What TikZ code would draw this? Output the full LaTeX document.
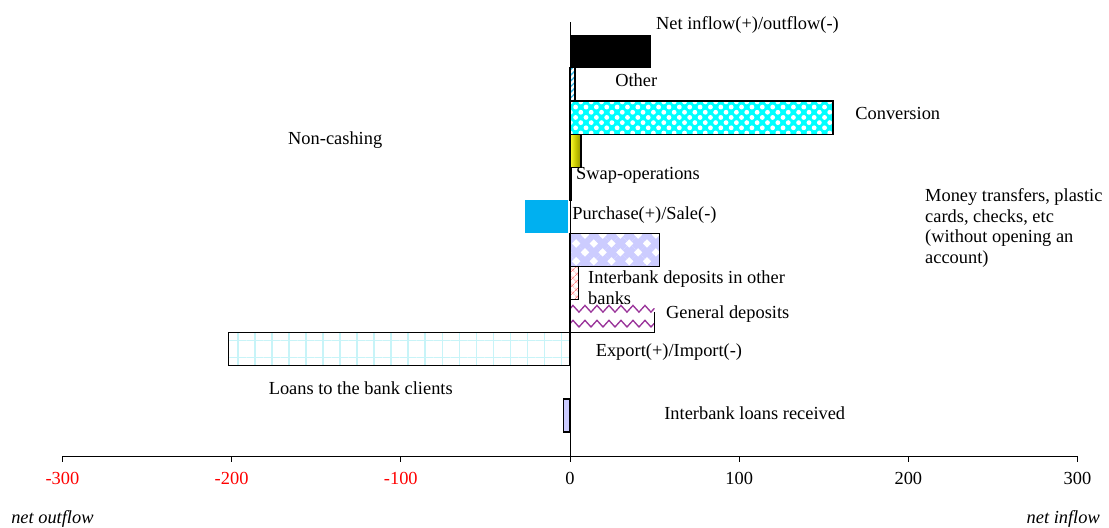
\documentclass[tikz,border=0pt]{standalone}
\usepackage{fontspec}
\setmainfont{Liberation Serif}
\usetikzlibrary{positioning, patterns.meta, decorations.pathmorphing}

\definecolor{barblue}{HTML}{00B0F0}
\definecolor{lavender}{HTML}{CCCCFF}
\definecolor{dotcyan}{HTML}{00FFFF}
\definecolor{zigpurple}{HTML}{993399}
\definecolor{gridcyan}{HTML}{C8F4F8}
\definecolor{stripeblue}{HTML}{33B5E5}

\begin{document}
\begin{tikzpicture}[
    x=1.2688pt, y=24.83pt,
    every node/.style={font=\fontsize{13.8}{15.5}\selectfont, inner sep=0pt},
    lbl/.style={anchor=west, align=left},
    bar/.style={draw=black, line width=0.9pt},
    axisline/.style={line width=0.6pt},
    ticklbl/.style={anchor=center},
    negtick/.style={ticklbl, text=red},
    side/.style={font=\fontsize{13.8}{15.5}\selectfont\itshape},
]
\useasboundingbox (-336.9,-2.145) rectangle (318.6,13.776);

% Bars, bottom to top
\draw[bar, fill=lavender] (0,0.725) rectangle (-4,1.725);
\draw[bar, pattern={Hatch[angle=0, distance=12.75pt, line width=0.8pt]}, pattern color=gridcyan] (0,2.725) rectangle (-202,3.725);
\begin{scope}
    \clip (0,3.725) rectangle (50,4.725);
    \draw[zigpurple, line width=1pt, decorate, decoration={zigzag, segment length=9pt, amplitude=2.5pt}] (0,4.0) -- (52,4.0);
    \draw[zigpurple, line width=1pt, decorate, decoration={zigzag, segment length=9pt, amplitude=2.5pt}] (0,4.45) -- (52,4.45);
\end{scope}
\draw[bar] (0,4.725) -- (0,3.725) -- (50,3.725) -- (50,4.35);
\draw[bar, pattern={Hatch[angle=45, distance=4pt, line width=0.6pt]}, pattern color=pink!70!red] (0,4.725) rectangle (5,5.725);
\draw[bar, pattern={Hatch[angle=45, distance=9.4pt, line width=4.7pt]}, pattern color=lavender] (0,5.725) rectangle (53,6.725);
\fill[barblue] (-26.6,6.74) rectangle (-1.2,7.73);
\draw[bar] (0,7.725) rectangle (0.6,8.725);
\draw[bar, left color=yellow!80!white, right color=olive!85!yellow] (0,8.725) rectangle (6.5,9.725);
\fill[dotcyan] (0,9.725) rectangle (155.5,10.725);
\draw[bar, pattern={Dots[distance=5.5pt, radius=1.8pt, angle=45]}, pattern color=white] (0,9.725) rectangle (155.5,10.725);
\draw[bar, pattern={Lines[angle=45, distance=3pt, line width=1pt]}, pattern color=stripeblue] (0,10.725) rectangle (3,11.725);
\fill[black] (0,11.725) rectangle (48,12.725);

% Axes
\draw[axisline] (-300,0) -- (300,0);
\draw[axisline] (0,0) -- (0,13.1);
\draw[axisline] (-300,0) -- (-300,-0.18);
\draw[axisline] (-200,0) -- (-200,-0.18);
\draw[axisline] (-100,0) -- (-100,-0.18);
\draw[axisline] (0,0) -- (0,-0.18);
\draw[axisline] (100,0) -- (100,-0.18);
\draw[axisline] (200,0) -- (200,-0.18);
\draw[axisline] (300,0) -- (300,-0.18);

% Tick labels
\node[negtick] (tm300) at (-300,-0.665) {-300};
\node[negtick] (tm200) at (-200,-0.665) {-200};
\node[negtick] (tm100) at (-100,-0.665) {-100};
\node[ticklbl] (t0) at (0,-0.665) {0};
\node[ticklbl] (t100) at (100,-0.665) {100};
\node[ticklbl] (t200) at (200,-0.665) {200};
\node[ticklbl] (t300) at (300,-0.665) {300};
\node[side, anchor=west] (outflow) at (-330.4,-1.9) {net outflow};
\node[side, anchor=east] (inflow) at (313.3,-1.9) {net inflow};

% Bar labels
\node[lbl] (netflow) at (50.8,13.02) {Net inflow(+)/outflow(-)};
\node[lbl] (other) at (26.6,11.36) {Other};
\node[lbl] (conversion) at (168.5,10.36) {Conversion};
\node[lbl] (noncash) at (-166.7,9.55) {Non-cashing};
\node[lbl] (swap) at (3.5,8.49) {Swap-operations};
\node[lbl] (transfers) at (209.8,6.89) {Money transfers, plastic\\cards, checks, etc\\(without opening an\\account)};
\node[lbl] (purchase) at (1.2,7.28) {Purchase(+)/Sale(-)};
\node[lbl] (ibdeposits) at (10.6,5.08) {Interbank deposits in other\\banks};
\node[lbl] (gendeposits) at (56.7,4.29) {General deposits};
\node[lbl] (export) at (15.1,3.14) {Export(+)/Import(-)};
\node[lbl] (loans) at (-178.2,2.05) {Loans to the bank clients};
\node[lbl] (ibloans) at (55.6,1.30) {Interbank loans received};

\end{tikzpicture}
\end{document}
